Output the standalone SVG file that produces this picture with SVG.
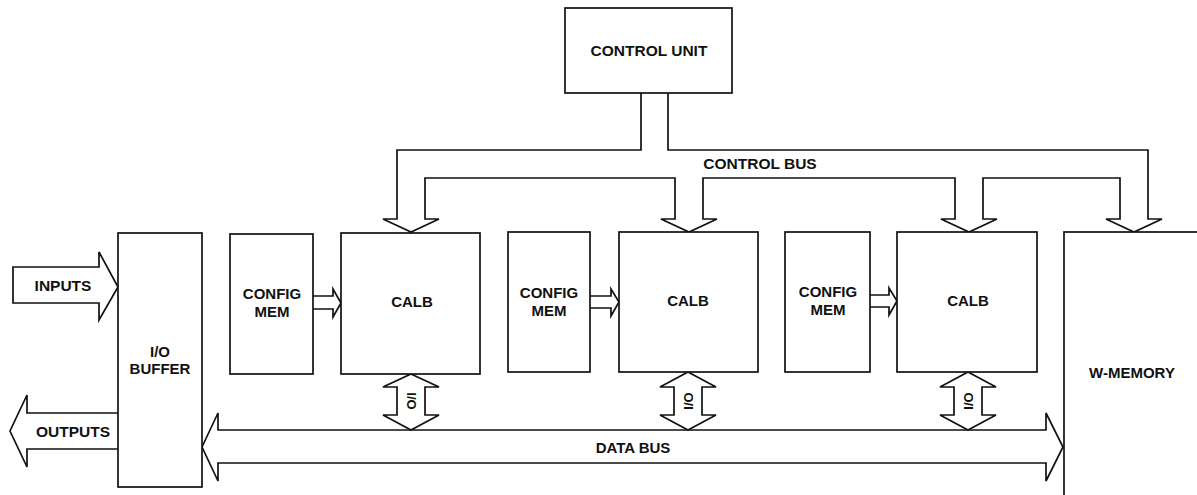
<svg xmlns="http://www.w3.org/2000/svg" width="1197" height="495" viewBox="0 0 1197 495">
<style>
.box{fill:#fff;stroke:#111;stroke-width:1.7}
.conn{fill:#fff;stroke:#111;stroke-width:1.7;stroke-linejoin:miter}
.t{font-family:"Liberation Sans",Arial,sans-serif;font-weight:bold;font-size:15px;fill:#111;text-anchor:middle;dominant-baseline:central}
.s{font-size:13px}
.l{font-size:15.5px}
</style>
<rect width="1197" height="495" fill="#fff"/>
<g id="connectors">
<path class="conn" d="M641,93 L641,150 L397,150 L397,219 L383,219 L411,232 L439,219 L425,219 L425,178 L675,178 L675,219 L661,219 L689,232 L717,219 L703,219 L703,178 L955,178 L955,219 L941,219 L969,232 L997,219 L983,219 L983,178 L1120,178 L1120,219 L1106,219 L1134,232 L1162,219 L1148,219 L1148,150 L668,150 L668,93"/>
<text class="t l" x="760" y="163">CONTROL BUS</text>
<path class="conn" d="M13,267 L99,267 L99,252 L118,287 L99,320 L99,303 L13,303 Z"/>
<text class="t l" x="63" y="285">INPUTS</text>
<path class="conn" d="M118,413 L27,413 L27,395 L10,431 L27,467 L27,449 L118,449"/>
<text class="t l" x="73" y="431">OUTPUTS</text>
<path class="conn" d="M202,447 L218,413 L218,430 L1046,430 L1046,413 L1063,447 L1046,481 L1046,463 L218,463 L218,481 Z"/>
<text class="t" x="633" y="447">DATA BUS</text>
<path class="conn" d="M313,296 L333,296 L333,289 L341,303 L333,317 L333,309 L313,309"/>
<path class="conn" d="M590,296 L611,296 L611,289 L619,302 L611,316 L611,308 L590,308"/>
<path class="conn" d="M870,295 L889,295 L889,288 L897,301 L889,315 L889,307 L870,307"/>
<path class="conn" d="M411,374 L439,387 L425,387 L425,415 L439,415 L411,430 L383,415 L397,415 L397,387 L383,387 Z"/>
<text class="t s" transform="translate(411,401) rotate(90)">I/O</text>
<path class="conn" d="M688,372 L716,387 L702,387 L702,415 L716,415 L688,430 L660,415 L674,415 L674,387 L660,387 Z"/>
<text class="t s" transform="translate(688,401) rotate(-90)">I/O</text>
<path class="conn" d="M968,372 L996,387 L982,387 L982,415 L996,415 L968,430 L940,415 L954,415 L954,387 L940,387 Z"/>
<text class="t s" transform="translate(968,401) rotate(-90)">I/O</text>
</g>
<g id="control-unit">
<rect class="box" x="565" y="8" width="167" height="85"/>
<text class="t l" x="649" y="50">CONTROL UNIT</text>
</g>
<g id="io-buffer">
<rect class="box" x="118" y="233" width="84" height="254"/>
<text class="t" x="160" y="351">I/O</text>
<text class="t" x="160" y="368">BUFFER</text>
</g>
<g id="config-mem-1">
<rect class="box" x="230" y="234" width="83" height="140"/>
<text class="t" x="272" y="293">CONFIG</text>
<text class="t" x="272" y="311">MEM</text>
</g>
<g id="calb-1">
<rect class="box" x="341" y="233" width="139" height="141"/>
<text class="t" x="412" y="301">CALB</text>
</g>
<g id="config-mem-2">
<rect class="box" x="508" y="232" width="82" height="140"/>
<text class="t" x="549" y="292">CONFIG</text>
<text class="t" x="549" y="310">MEM</text>
</g>
<g id="calb-2">
<rect class="box" x="619" y="232" width="139" height="140"/>
<text class="t" x="688" y="300">CALB</text>
</g>
<g id="config-mem-3">
<rect class="box" x="785" y="232" width="85" height="140"/>
<text class="t" x="828" y="291">CONFIG</text>
<text class="t" x="828" y="309">MEM</text>
</g>
<g id="calb-3">
<rect class="box" x="897" y="232" width="140" height="140"/>
<text class="t" x="968" y="300">CALB</text>
</g>
<g id="w-memory">
<rect class="box" x="1064" y="232" width="200" height="300"/>
<text class="t" x="1132" y="372">W-MEMORY</text>
</g>
</svg>
